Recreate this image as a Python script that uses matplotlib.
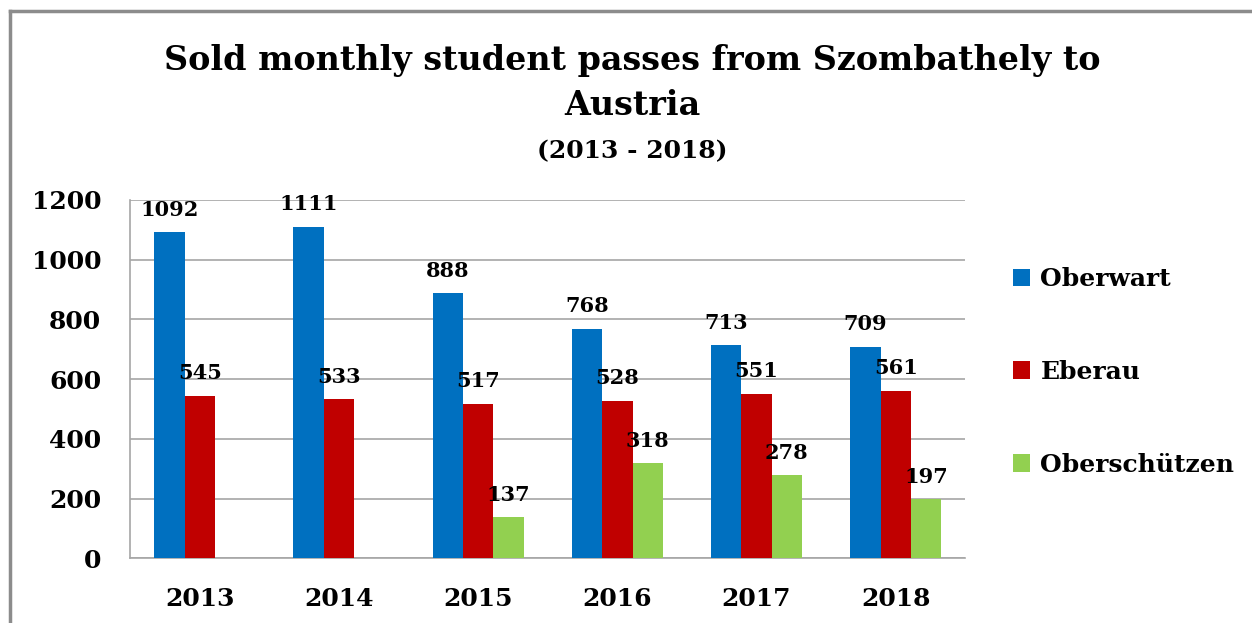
import numpy as np
import matplotlib
matplotlib.use("Agg")
import matplotlib.pyplot as plt
from matplotlib.lines import Line2D

# Data
years = ["2013", "2014", "2015", "2016", "2017", "2018"]
oberwart = [1092, 1111, 888, 768, 713, 709]
eberau = [545, 533, 517, 528, 551, 561]
oberschuetzen = [None, None, 137, 318, 278, 197]

series_names = ["Oberwart", "Eberau", "Oberschützen"]
colors = ["#0070C0", "#C00000", "#92D050"]

plt.rcParams['font.family'] = ['DejaVu Serif']
plt.rcParams['font.weight'] = 'bold'

fig = plt.figure(figsize=(12.52, 6.23), dpi=100)
ax = fig.add_axes([0.104, 0.104, 0.667, 0.575])

x = np.arange(len(years))
width = 0.218
allSeries = [oberwart, eberau, oberschuetzen]

for i, (vals, name, col) in enumerate(zip(allSeries, series_names, colors)):
    pos = x + (i - 1) * width
    keep = [j for j, v in enumerate(vals) if v is not None]
    heights = [vals[j] for j in keep]
    bars = ax.bar(pos[keep], heights, width, color=col, label=name, zorder=3)
    for b, v in zip(bars, heights):
        ax.annotate(str(v), (b.get_x() + b.get_width() / 2, v),
                    xytext=(0, 9), textcoords="offset points",
                    ha="center", va="bottom", fontsize=15, fontweight="bold",
                    zorder=4)

ax.set_xlim(-0.5, len(years) - 0.5)
ax.set_ylim(0, 1200)
ax.set_yticks(range(0, 1201, 200))
ax.set_xticks(x)
ax.set_xticklabels(years)
ax.tick_params(axis="both", length=0, labelsize=18)
ax.tick_params(axis="y", pad=21)
ax.tick_params(axis="x", pad=21)
for lab in ax.get_xticklabels() + ax.get_yticklabels():
    lab.set_fontweight("bold")

ax.grid(axis="y", color="#A6A6A6", linewidth=1.2, zorder=0)
for side in ["top", "right"]:
    ax.spines[side].set_visible(False)
ax.spines["left"].set_color("#A6A6A6")
ax.spines["bottom"].set_color("#A6A6A6")
ax.spines["left"].set_linewidth(1.2)
ax.spines["bottom"].set_linewidth(1.2)

leg = ax.legend(loc="center left", bbox_to_anchor=(1.03, 0.52), frameon=False,
                fontsize=18, handlelength=0.7, handleheight=0.7,
                handletextpad=0.4, labelspacing=2.75)
for t in leg.get_texts():
    t.set_fontweight("bold")

fig.text(0.505, 0.903, "Sold monthly student passes from Szombathely to",
         ha="center", va="center", fontsize=24, fontweight="bold")
fig.text(0.505, 0.830, "Austria", ha="center", va="center",
         fontsize=24, fontweight="bold")
fig.text(0.505, 0.758, "(2013 - 2018)", ha="center", va="center",
         fontsize=18, fontweight="bold")

# outer frame (top and left edges only visible)
fig.add_artist(Line2D([0.008, 1.0], [0.983, 0.983], color="#8C8C8C",
                      linewidth=2.5, transform=fig.transFigure))
fig.add_artist(Line2D([0.008, 0.008], [0.0, 0.983], color="#8C8C8C",
                      linewidth=2.5, transform=fig.transFigure))

fig.savefig("out.png", dpi=100)
